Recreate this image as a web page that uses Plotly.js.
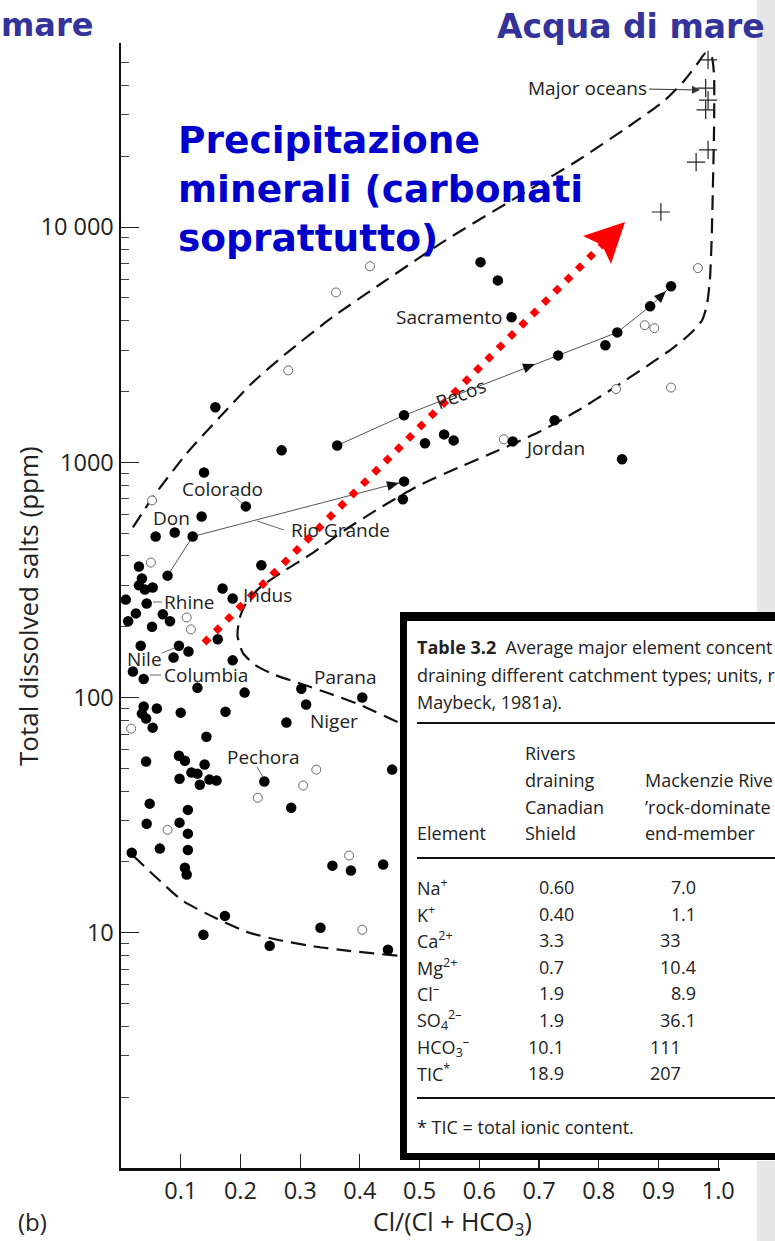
<!DOCTYPE html>
<html><head><meta charset="utf-8">
<script src="https://cdn.plot.ly/plotly-3.0.1.min.js"></script>
<style>html,body{margin:0;padding:0;background:#fff;} #chart{width:775px;height:1241px;}</style>
</head><body><div id="chart"></div>
<script>
// ---------------- DATA ----------------
const filledX = [0.602,0.631,0.654,0.921,0.886,0.831,0.811,0.732,0.474,0.362,
  0.726,0.509,0.541,0.557,0.656,0.839,0.158,0.269,0.139,0.209,
  0.135,0.090,0.058,0.120,0.474,0.472,0.235,0.030,0.078,0.035,
  0.030,0.040,0.053,0.170,0.008,0.043,0.187,0.025,0.070,0.082,
  0.012,0.052,0.162,0.033,0.097,0.113,0.088,0.187,0.020,0.038,
  0.128,0.207,0.302,0.404,0.310,0.038,0.060,0.035,0.042,0.053,
  0.100,0.175,0.277,0.143,0.097,0.107,0.042,0.140,0.118,0.128,
  0.098,0.132,0.148,0.160,0.240,0.454,0.285,0.048,0.112,0.043,
  0.098,0.112,0.065,0.112,0.018,0.107,0.110,0.354,0.385,0.439,
  0.174,0.138,0.249,0.334,0.447];
const filledY = [7100,5940,4140,5610,4610,3570,3150,2850,1585,1180,
  1510,1205,1315,1240,1228,1031,1715,1125,906,650,
  589,503,484,484,830,697,365,361,330,321,
  300,288,294,291,261,251,264,228,226,211,
  211,200,177,166,166,157,148,144,129,120,
  110,105,109,100,93.4,91.6,89.8,85.5,81.5,74.5,
  86.3,87,78.3,68.2,56.6,53.9,53.5,51.9,48,47.5,
  45.2,42.6,44.8,44.4,44,49.4,34,35.4,33.3,29.1,
  29.4,26.4,22.8,22.5,21.9,18.9,17.7,19.3,18.4,19.5,
  11.8,9.8,8.8,10.5,8.47];
const openX = [0.417,0.360,0.280,0.966,0.877,0.893,0.829,0.921,0.641,0.052,0.050,0.110,0.117,0.017,0.327,0.305,0.229,0.078,0.382,0.404];
const openY = [6820,5280,2460,6700,3830,3720,2050,2080,1254,689,375,219,195,73.8,49.4,42.3,37.5,27.4,21.3,10.3];
const oceanX = [0.983,0.979,0.983,0.979,0.983,0.963,0.904];
const oceanY = [51400,39000,34700,31500,21300,18900,11600];
const envUpperX = [0.020,0.052,0.110,0.165,0.220,0.277,0.354,0.444,0.544,0.654,0.766,0.849,0.911,0.944,0.966,0.979,0.989,0.993,0.993,0.991,0.989,0.986,0.981,0.973,0.954,0.924,0.883,0.824,0.766,0.699,0.632,0.566,0.499,0.432,0.374,0.320,0.274,0.235,0.212,0.199,0.195,0.204,0.224,0.257,0.299,0.349,0.399,0.465,0.50];
const envUpperY = [529,703,1092,1554,2180,2910,4140,5950,8810,13000,19300,26700,34700,42200,49900,55000,52900,44300,25900,14400,8810,5950,4660,4020,3540,3060,2590,2065,1665,1342,1125,952,798,637,514,410,347,297,259,219,184,155,138,125,115,104,93.4,78.3,71];
const envLowerX = [0.020,0.060,0.103,0.160,0.215,0.270,0.327,0.382,0.465,0.50];
const envLowerY = [21.3,17.1,13.7,11.5,10,9.25,8.72,8.38,7.98,7.85];
const pecosX = [0.362,0.474,0.732,0.831,0.886,0.921];
const pecosY = [1180,1585,2850,3570,4610,5610];
const rioX = [0.078,0.120,0.474];
const rioY = [330,484,830];
const xTickVals = [0.1,0.2,0.3,0.4,0.5,0.6,0.7,0.8,0.9,1.0];
const xTickText = ['0.1','0.2','0.3','0.4','0.5','0.6','0.7','0.8','0.9','1.0'];
const yTickVals = [10,100,1000,10000];
const yTickText = ['10','100','1000','10 000'];
const yMinorVals = [2,3,4,5,6,7,8,9,20,30,40,50,60,70,80,90,200,300,400,500,600,700,800,900,2000,3000,4000,5000,6000,7000,8000,9000,20000,30000,40000,50000];
// table
const tableElements = ['Na<sup>+</sup>','K<sup>+</sup>','Ca<sup>2+</sup>','Mg<sup>2+</sup>','Cl<sup>–</sup>','SO<sub>4</sub><sup>2–</sup>','HCO<sub>3</sub><sup>–</sup>','TIC<sup>*</sup>'];
const canadianShield = ['0.60','0.40','3.3','0.7','1.9','1.9','10.1','18.9'];
const mackenzieRock = ['7.0','1.1','33','10.4','8.9','36.1','111','207'];

// ---------------- LAYOUT HELPERS (pixel -> paper) ----------------
const L = 121, T = 43, W = 599, H = 1125;
const px = p => (p - L) / W;
const py = p => (T + H - p) / H;
const FONT = 'Open Sans, Noto Sans, sans-serif';
const BLUEFONT = 'DejaVu Sans, sans-serif';

const annotations = [];
function txt(t, x, y, o) {
  annotations.push(Object.assign({xref:'paper', yref:'paper', x:px(x), y:py(y), text:t, showarrow:false,
    xanchor:'center', yanchor:'middle', borderpad:0, borderwidth:0,
    font:{family:FONT, size:19, color:'#222'}}, o || {}));
}
const shapes = [];
function seg(x0,y0,x1,y1,color,width,dash,layer) {
  shapes.push({type:'line', xref:'paper', yref:'paper', x0:px(x0), y0:py(y0), x1:px(x1), y1:py(y1),
    line:{color:color, width:width, dash:dash||'solid'}, layer:layer||'above'});
}
function box(x0,y0,x1,y1,fill,layer) {
  shapes.push({type:'rect', xref:'paper', yref:'paper', x0:px(x0), y0:py(y1), x1:px(x1), y1:py(y0),
    fillcolor:fill, line:{width:0}, layer:layer||'above'});
}
function poly(pts, fill) {
  const d = pts.map((p, i) => (i ? 'L ' : 'M ') + px(p[0]) + ',' + py(p[1])).join(' ') + ' Z';
  shapes.push({type:'path', xref:'paper', yref:'paper', layer:'above', fillcolor:fill, line:{width:0}, path:d});
}
function arrowHead(tx, ty, dx, dy, len, half) {
  const n = Math.hypot(dx, dy), ux = dx / n, uy = dy / n;
  const bx = tx - ux * len, by = ty - uy * len;
  poly([[tx, ty], [bx - uy * half, by + ux * half], [bx + uy * half, by - ux * half]], '#111');
}

// ---------------- TRACES ----------------
const dashed = {color:'#111', width:2.2, dash:'15px,8px'};
const traces = [
  {x:envUpperX, y:envUpperY, mode:'lines', line:Object.assign({shape:'spline', smoothing:0.6}, dashed), hoverinfo:'skip', cliponaxis:false},
  {x:envLowerX, y:envLowerY, mode:'lines', line:Object.assign({shape:'spline', smoothing:0.6}, dashed), hoverinfo:'skip', cliponaxis:false},
  {x:pecosX, y:pecosY, mode:'lines', line:{color:'#555', width:1}, hoverinfo:'skip'},
  {x:rioX, y:rioY, mode:'lines', line:{color:'#555', width:1}, hoverinfo:'skip'},
  {x:openX, y:openY, mode:'markers', marker:{symbol:'circle', size:9, color:'#fff', line:{color:'#666', width:1}}, cliponaxis:false},
  {x:filledX, y:filledY, mode:'markers', marker:{symbol:'circle', size:10.5, color:'#000'}, cliponaxis:false},
  {x:oceanX, y:oceanY, mode:'markers', marker:{symbol:'cross-thin', size:13, color:'#222', line:{color:'#222', width:1.2}}, cliponaxis:false}
];

// ---------------- DECORATIONS ----------------
box(757, -5, 790, 612, '#e6e6e6', 'below');
box(757, 1161, 790, 1250, '#e6e6e6', 'below');

// red dotted arrow
seg(204, 643, 603, 244, '#ff0000', 7, '7px,9px');
poly([[625,222],[583,236],[602,245],[611,264]], '#ff0000');

// leader lines
seg(235, 497, 244, 505, '#444', 0.8);
seg(257, 521, 284, 530, '#444', 0.8);
seg(153, 602, 162, 602, '#444', 0.8);
seg(162, 653, 177, 647, '#444', 0.8);
seg(150, 675, 161, 675, '#444', 0.8);
seg(257, 767, 263, 777, '#444', 0.8);

// arrowheads on river paths
arrowHead(535, 364, 13, -5, 12, 5);
arrowHead(666, 291, 1, -1, 12, 5);
arrowHead(399, 483, 212, -55, 12, 5);

// table overlay
box(402, 614, 790, 1158, '#ffffff');
box(400, 612, 790, 621, '#000');
box(400, 612, 407, 1160, '#000');
box(400, 1153, 790, 1160, '#000');
seg(417, 723, 790, 723, '#111', 2);
seg(417, 858, 790, 858, '#111', 2);
seg(417, 1098, 790, 1098, '#111', 2);

// labels on the chart
txt('Colorado', 222, 489);
txt('Don', 171, 518);
txt('Rio Grande', 340, 530);
txt('Rhine', 189, 602);
txt('Indus', 267, 595);
txt('Nile', 144, 659);
txt('Columbia', 206, 675);
txt('Parana', 345, 677);
txt('Niger', 334, 721);
txt('Pechora', 263, 757);
txt('Sacramento', 449, 317);
txt('Pecos', 461, 394, {textangle:-21});
txt('Jordan', 555, 448);
annotations.push({xref:'paper', yref:'paper', x:px(700), y:py(90), ax:-113, ay:-2, text:'Major oceans',
  showarrow:true, arrowhead:2, arrowsize:1.6, arrowwidth:1, arrowcolor:'#333', standoff:0, borderpad:2,
  font:{family:FONT, size:19, color:'#222'}});

// big slide texts
txt('<b>mare</b>', 1, 25, {xanchor:'left', font:{family:BLUEFONT, size:32, color:'#333399'}});
txt('<b>Acqua di mare</b>', 765, 26, {xanchor:'right', font:{family:BLUEFONT, size:33, color:'#333399'}});
txt('<b>Precipitazione<br>minerali (carbonati<br>soprattutto)</b>', 178, 189,
  {xanchor:'left', align:'left', font:{family:BLUEFONT, size:37.5, color:'#0000cc'}});

// axis titles and panel letter
txt('Total dissolved salts (ppm)', 28, 606, {textangle:-90, font:{family:FONT, size:26, color:'#222'}});
txt('Cl/(Cl + HCO<sub>3</sub>)', 452, 1222, {font:{family:FONT, size:25, color:'#222'}});
txt('(b)', 32, 1221, {font:{family:FONT, size:24, color:'#222'}});

// table text
const TF = {family:FONT, size:18, color:'#222'};
txt('<b>Table 3.2</b>  Average major element concent', 417, 647, {xanchor:'left', font:TF});
txt('draining different catchment types; units, r', 417, 675, {xanchor:'left', font:TF});
txt('Maybeck, 1981a).', 417, 702, {xanchor:'left', font:TF});
txt('Rivers', 525, 753, {xanchor:'left', font:TF});
txt('draining', 525, 780, {xanchor:'left', font:TF});
txt('Canadian', 525, 807, {xanchor:'left', font:TF});
txt('Shield', 525, 833, {xanchor:'left', font:TF});
txt('Element', 417, 833, {xanchor:'left', font:TF});
txt('Mackenzie Rive', 645, 780, {xanchor:'left', font:TF});
txt('\u2019rock-dominate', 645, 807, {xanchor:'left', font:TF});
txt('end-member', 645, 833, {xanchor:'left', font:TF});
function decimalCell(s, decX, y) {
  const parts = s.split('.');
  txt(parts[0], decX, y, {xanchor:'right', font:TF});
  if (parts.length > 1) txt('.' + parts[1], decX, y, {xanchor:'left', font:TF});
}
tableElements.forEach((el, i) => {
  const y = 887 + i * 26.6;
  txt(el, 417, y, {xanchor:'left', font:TF});
  decimalCell(canadianShield[i], 549, y);
  decimalCell(mackenzieRock[i], 681, y);
});
txt('* TIC = total ionic content.', 417, 1127, {xanchor:'left', font:TF});

// ---------------- LAYOUT ----------------
const layout = {
  width:775, height:1241,
  margin:{l:L, r:775-L-W, t:T, b:1241-T-H, pad:0},
  paper_bgcolor:'#fff', plot_bgcolor:'#fff',
  showlegend:false,
  xaxis:{range:[0,1.003], tickmode:'array', tickvals:xTickVals, ticktext:xTickText,
    ticks:'inside', ticklen:14, tickwidth:1.2, tickcolor:'#222',
    showline:true, linecolor:'#111', linewidth:2.5, showgrid:false, zeroline:false,
    tickfont:{family:FONT, size:23.5, color:'#222'}},
  yaxis:{type:'log', range:[0,4.783], tickmode:'array', tickvals:yTickVals, ticktext:yTickText,
    ticks:'inside', ticklen:18, tickwidth:1.2, tickcolor:'#222',
    minor:{tickmode:'array', tickvals:yMinorVals, ticks:'inside', ticklen:8, tickwidth:1, tickcolor:'#444', showgrid:false},
    showline:true, linecolor:'#111', linewidth:2.5, showgrid:false, zeroline:false,
    tickfont:{family:FONT, size:23.5, color:'#222'}},
  shapes:shapes,
  annotations:annotations
};
Plotly.newPlot('chart', traces, layout, {displayModeBar:false, staticPlot:true});
</script></body></html>
